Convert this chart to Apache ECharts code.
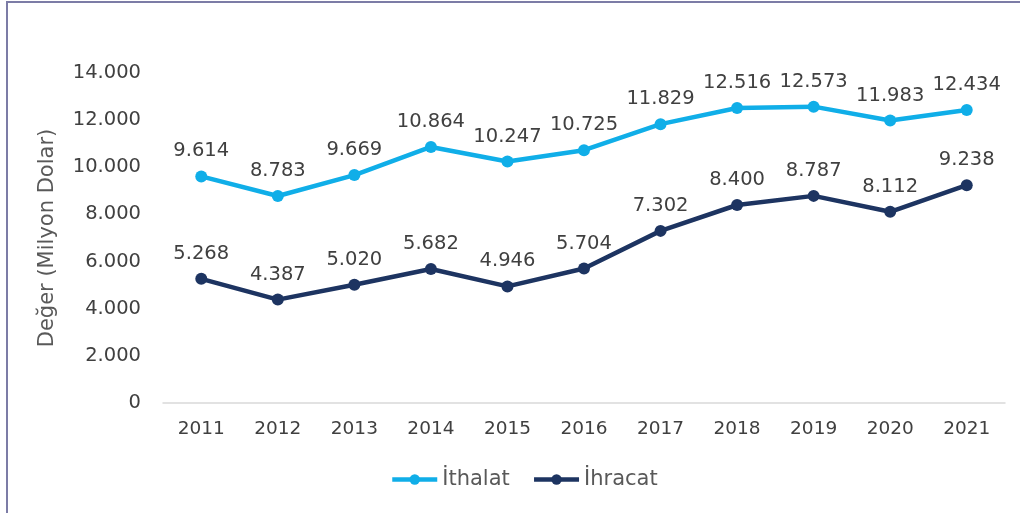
<!DOCTYPE html>
<html>
<head>
<meta charset="utf-8">
<script src="https://cdn.jsdelivr.net/npm/echarts@6/dist/echarts.min.js"></script>
<style>
  html, body { margin: 0; padding: 0; background: #fff; }
  #chart { width: 1020px; height: 513px; }
</style>
</head>
<body>
<div id="chart"></div>
<script>
// Years on the x axis
const years = ['2011', '2012', '2013', '2014', '2015', '2016', '2017', '2018', '2019', '2020', '2021'];
// Imports (million USD)
const ithalat = [9614, 8783, 9669, 10864, 10247, 10725, 11829, 12516, 12573, 11983, 12434];
// Exports (million USD)
const ihracat = [5268, 4387, 5020, 5682, 4946, 5704, 7302, 8400, 8787, 8112, 9238];

// Turkish style thousands separator: 12516 -> "12.516"
function fmt(v) {
  return String(Math.round(v)).replace(/\B(?=(\d{3})+(?!\d))/g, '.');
}

const FONT = "'DejaVu Sans'";
const TEXT = '#404040';
const MUTED = '#595959';

const chart = echarts.init(document.getElementById('chart'));

function lineSeries(name, data, color) {
  return {
    name: name,
    type: 'line',
    data: data,
    symbol: 'circle',
    symbolSize: 12,
    lineStyle: { color: color, width: 4.5 },
    itemStyle: { color: color },
    label: {
      show: true,
      position: 'top',
      distance: 9,
      color: TEXT,
      fontFamily: FONT,
      fontSize: 19.5,
      formatter: p => fmt(p.value)
    },
    emphasis: { disabled: true },
    z: 3
  };
}

chart.setOption({
  animation: false,
  textStyle: { fontFamily: FONT },
  graphic: [{
    type: 'rect',
    shape: { x: 7, y: 2, width: 1040, height: 540 },
    style: { fill: 'none', stroke: '#7c7ca6', lineWidth: 2 },
    silent: true
  }],
  grid: { left: 163, right: 15, top: 73, bottom: 110 },
  legend: {
    bottom: 23,
    left: 390,
    padding: 0,
    itemWidth: 45,
    itemHeight: 13,
    itemGap: 22,
    textStyle: { color: MUTED, fontFamily: FONT, fontSize: 21 },
    data: [
      { name: 'İthalat', lineStyle: { width: 4.5 } },
      { name: 'İhracat', lineStyle: { width: 4.5 } }
    ]
  },
  xAxis: {
    type: 'category',
    data: years,
    axisLine: { lineStyle: { color: '#d9d9d9', width: 1.5 } },
    axisTick: { show: false },
    axisLabel: { color: TEXT, fontFamily: FONT, fontSize: 18.5, margin: 17 }
  },
  yAxis: {
    type: 'value',
    min: 0,
    max: 14000,
    interval: 2000,
    name: 'Değer (Milyon Dolar)',
    nameLocation: 'middle',
    nameGap: 105,
    nameTextStyle: { color: MUTED, fontFamily: FONT, fontSize: 21 },
    axisLine: { show: false },
    axisTick: { show: false },
    splitLine: { show: false },
    axisLabel: {
      color: TEXT,
      fontFamily: FONT,
      fontSize: 19.5,
      margin: 22,
      formatter: v => fmt(v)
    }
  },
  series: [
    lineSeries('İthalat', ithalat, '#10aee8'),
    lineSeries('İhracat', ihracat, '#1d3461')
  ]
});
</script>
</body>
</html>
